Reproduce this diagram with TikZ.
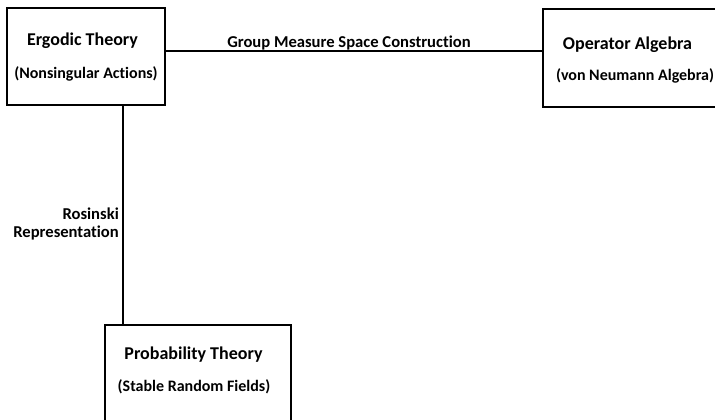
\documentclass[tikz,border=0pt]{standalone}
\usepackage{fontspec}
\setmainfont{Carlito}[Ligatures=NoCommon]
\begin{document}
\begin{tikzpicture}[x=1pt,y=1pt,
  box/.style={draw=black,line width=2pt,fill=white,inner sep=0pt},
  ttl/.style={font=\bfseries\fontsize{18}{21}\selectfont,inner sep=0pt},
  sub/.style={font=\bfseries\fontsize{16}{18}\selectfont,inner sep=0pt},
  lbl/.style={font=\bfseries\fontsize{16.6}{18}\selectfont,inner sep=0pt},
  conn/.style={line width=2pt}]
\useasboundingbox (0,0) rectangle (715,-420);
\node[box,minimum width=178pt,minimum height=98pt] (oper) at (632,-58) {};
\node[box,minimum width=158pt,minimum height=97pt] (ergo) at (86,-56.5) {};
\node[box,minimum width=186pt,minimum height=100pt] (prob) at (198,-375) {};
\coordinate (hy) at (0,-51);
\coordinate (vx) at (122.5,0);
\draw[conn] (ergo.east |- hy) -- (oper.west |- hy);
\draw[conn] (ergo.south -| vx) -- (prob.north -| vx);
\node[ttl] (ergoT) at (82.5,-41) {Ergodic Theory};
\node[sub] (ergoS) at (86,-74) {(Nonsingular Actions)};
\node[ttl] (operT) at (627.5,-45) {Operator Algebra};
\node[sub] (operS) at (635,-76) {(von Neumann Algebra)};
\node[ttl] (probT) at (193.5,-355) {Probability Theory};
\node[sub] (probS) at (194,-387) {(Stable Random Fields)};
\node[lbl] (grp) at (349,-43) {Group Measure Space Construction};
\node[lbl,align=right,anchor=east] (ros) at (119,-224) {Rosinski\\Representation};
\end{tikzpicture}
\end{document}
